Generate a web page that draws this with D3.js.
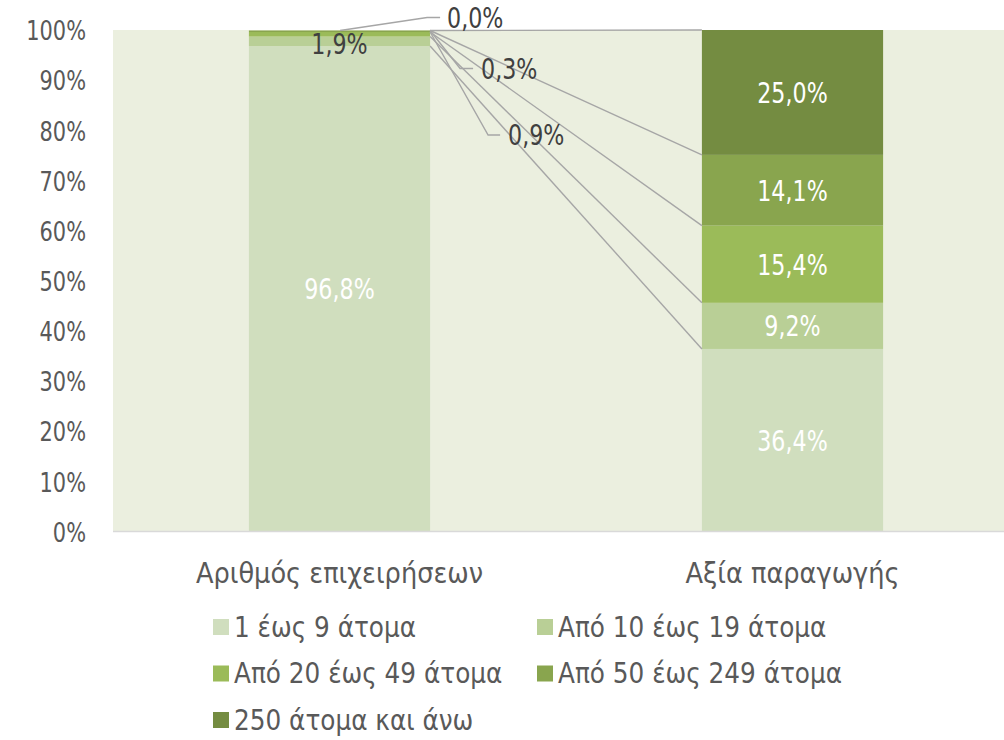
<!DOCTYPE html>
<html>
<head>
<meta charset="utf-8">
<script src="https://cdn.jsdelivr.net/npm/d3@7"></script>
<style>
  body { margin: 0; background: #fff; }
  svg { font-family: "DejaVu Sans Condensed", "DejaVu Sans", sans-serif; }
</style>
</head>
<body>
<div id="chart-area"><svg></svg></div>
<script>
const chartSize = { width: 1004, height: 740 };
const margin = { left: 113, top: 30 };
const plot = { width: 906, height: 501.5 };
const textFont = '"DejaVu Sans Condensed", "DejaVu Sans", sans-serif';

const categories = ['Αριθμός επιχειρήσεων', 'Αξία παραγωγής'];
const seriesNames = ['1 έως 9 άτομα', 'Από 10 έως 19 άτομα', 'Από 20 έως 49 άτομα', 'Από 50 έως 249 άτομα', '250 άτομα και άνω'];
const firmsValues = [96.8, 1.9, 0.9, 0.3, 0.0];
const outputValues = [36.4, 9.2, 15.4, 14.1, 25.0];
const yTicks = [0, 10, 20, 30, 40, 50, 60, 70, 80, 90, 100];
const colors = ['#d0debe', '#b9cf96', '#9bbb59', '#89a54e', '#748c41'];

const fmt = v => d3.format('.1f')(v).replace('.', ',') + '%';

// squeeze numeric labels a bit, the original font has narrow digits
const narrow = (sel, k) => sel.each(function () {
  d3.select(this)
    .attr('textLength', this.getComputedTextLength() * k)
    .attr('lengthAdjust', 'spacingAndGlyphs');
});

const rows = categories.map((c, i) => {
  const row = { cat: c };
  const vals = i === 0 ? firmsValues : outputValues;
  seriesNames.forEach((s, j) => row[s] = vals[j]);
  return row;
});

const main = () => {
  const svg = d3.select('#chart-area svg')
    .attr('width', chartSize.width)
    .attr('height', chartSize.height);

  const x = d3.scaleBand().domain(categories).range([0, plot.width]).paddingInner(0.6).paddingOuter(0.3);
  const y = d3.scaleLinear().domain([0, 100]).range([plot.height, 0]);

  const g = svg.append('g').attr('transform', `translate(${margin.left},${margin.top})`);

  g.append('rect')
    .attr('width', plot.width).attr('height', plot.height)
    .attr('fill', '#ebefdf');

  const stacked = d3.stack().keys(seriesNames)(rows);

  stacked.forEach((layer, j) => {
    g.selectAll(null).data(layer).enter().append('rect')
      .attr('x', d => x(d.data.cat))
      .attr('y', d => y(Math.min(d[1], 100)))
      .attr('width', x.bandwidth())
      .attr('height', d => y(d[0]) - y(Math.min(d[1], 100)))
      .attr('fill', colors[j]);
  });

  // series lines between the two bars
  const x0 = x(categories[0]) + x.bandwidth();
  const x1 = x(categories[1]);
  stacked.forEach(layer => {
    g.append('line')
      .attr('x1', x0).attr('y1', y(Math.min(layer[0][1], 100)))
      .attr('x2', x1).attr('y2', y(Math.min(layer[1][1], 100)))
      .attr('stroke', '#a6a6a6').attr('stroke-width', 1.4);
  });

  // y axis
  const yAxis = d3.axisLeft(y).tickValues(yTicks).tickFormat(d => d + '%').tickSize(0).tickPadding(27);
  g.append('g').call(yAxis)
    .call(a => a.select('.domain').remove())
    .selectAll('text')
    .attr('font-size', 27).attr('fill', '#595959').attr('font-family', textFont)
    .attr('dy', '0.36em')
    .call(narrow, 0.86);

  // x axis
  const xAxis = d3.axisBottom(x).tickSize(0).tickPadding(30);
  g.append('g').attr('transform', `translate(0,${plot.height})`).call(xAxis)
    .call(a => a.select('.domain').attr('stroke', '#d9d9d9').attr('stroke-width', 1.5)
      .attr('d', `M0,0H${plot.width}`))
    .selectAll('text')
    .attr('font-size', 28.5).attr('fill', '#595959').attr('font-family', textFont)
    .attr('dy', '0.74em');

  // data labels
  const cx = c => x(c) + x.bandwidth() / 2;
  const mid = d => y((d[0] + Math.min(d[1], 100)) / 2);
  const inside = [[0, 0], [1, 0], [1, 1], [1, 2], [1, 3], [1, 4]];
  inside.forEach(([c, j]) => {
    const d = stacked[j][c];
    g.append('text')
      .attr('x', cx(categories[c])).attr('y', mid(d))
      .attr('dy', '0.36em').attr('text-anchor', 'middle')
      .attr('font-size', 29).attr('fill', '#ffffff')
      .text(fmt(c === 0 ? firmsValues[j] : outputValues[j]))
      .call(narrow, 0.85);
  });

  // moved labels for the thin segments of the first bar
  const moved = [
    { j: 1, tx: 0, ty: 2, leader: null },
    { j: 2, tx: 78, ty: 103, leader: [[0, 0], [58, 103], [70, 103]] },
    { j: 3, tx: 51, ty: 38, leader: [[0, 0], [30, 38], [43, 38]] },
    { j: 4, tx: 17, ty: -13, leader: [[-90, 0], [-3, -13], [10, -13]] }
  ];
  moved.forEach(m => {
    const d = stacked[m.j][0];
    const ax = m.j === 1 ? cx(categories[0]) : x0;
    const ay = m.j === 1 ? mid(d) : y(Math.min(d[1], 100));
    if (m.leader) {
      g.append('path')
        .attr('d', d3.line()(m.leader.map(p => [ax + p[0], ay + p[1]])))
        .attr('fill', 'none').attr('stroke', '#a6a6a6').attr('stroke-width', 1.4);
    }
    g.append('text')
      .attr('x', ax + m.tx)
      .attr('y', ay + m.ty)
      .attr('dy', '0.36em')
      .attr('text-anchor', m.leader ? 'start' : 'middle')
      .attr('font-size', 29).attr('fill', '#404040')
      .text(fmt(firmsValues[m.j]))
      .call(narrow, 0.85);
  });

  // legend
  const legend = svg.append('g').attr('transform', 'translate(213,627)');
  seriesNames.forEach((s, i) => {
    const item = legend.append('g')
      .attr('transform', `translate(${(i % 2) * 324},${Math.floor(i / 2) * 46.5})`);
    item.append('rect').attr('x', 0).attr('y', -8).attr('width', 16).attr('height', 16).attr('fill', colors[i]);
    item.append('text').attr('x', 21).attr('y', 0).attr('dy', '0.36em')
      .attr('font-size', 27.5).attr('fill', '#595959').text(s);
  });
};

window.onload = main;
</script>
</body>
</html>
